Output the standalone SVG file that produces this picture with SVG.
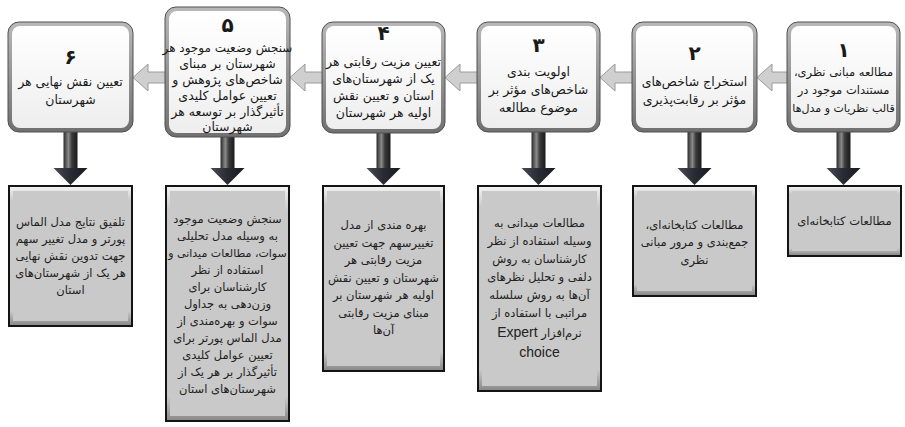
<svg xmlns="http://www.w3.org/2000/svg" width="905" height="427" viewBox="0 0 905 427">
<defs>
<linearGradient id="topFill" x1="0" y1="0" x2="0" y2="1">
<stop offset="0" stop-color="#ffffff"/><stop offset="1" stop-color="#eeeeee"/>
</linearGradient>
<linearGradient id="topFrame" x1="0" y1="0" x2="0" y2="1">
<stop offset="0" stop-color="#b8b8b8"/><stop offset="1" stop-color="#707070"/>
</linearGradient>
<linearGradient id="botBevel" x1="0" y1="0" x2="0" y2="1">
<stop offset="0" stop-color="#f2f2f2"/><stop offset="0.1" stop-color="#c9c9c9"/><stop offset="0.9" stop-color="#c9c9c9"/><stop offset="1" stop-color="#8a8a8a"/>
</linearGradient>
<linearGradient id="shaft" x1="0" y1="0" x2="1" y2="0">
<stop offset="0" stop-color="#2a2a2a"/><stop offset="0.35" stop-color="#8a8a8a"/><stop offset="0.6" stop-color="#3a3a3a"/><stop offset="1" stop-color="#1a1a1a"/>
</linearGradient>
<linearGradient id="head" x1="0" y1="0" x2="1" y2="0">
<stop offset="0" stop-color="#4a4a55"/><stop offset="0.5" stop-color="#2a2a33"/><stop offset="1" stop-color="#1a1a22"/>
</linearGradient>
<g id="down">
<rect x="-7" y="0" width="14" height="37" fill="url(#shaft)"/>
<polygon points="-17,36 17,36 0,53" fill="url(#head)"/>
</g>
<polygon id="left" points="0,0 15,-13.5 15,-5.5 34,-5.5 34,5.5 15,5.5 15,13.5" fill="#cfcfcf" stroke="#9a9a9a" stroke-width="1"/>
</defs>
<style>
.tf{fill:url(#topFrame);stroke:#505050;stroke-width:1}
.ti{fill:url(#topFill)}
.bo{fill:#141414}
.bb{fill:url(#botBevel)}
.bi{fill:#c9c9c9}
text{font-family:"DejaVu Sans","Noto Sans",sans-serif;text-anchor:middle;direction:rtl;fill:#1a1a1a}
.t{font-size:12.5px}
.s{font-size:11.5px}
.n{font-size:20px;font-weight:bold}
.b{font-size:11.5px;fill:#222}
.lat{font-family:"Liberation Sans",Arial,sans-serif;font-size:14px;direction:ltr}
</style>
<g id="connectors">
<use href="#left" x="133" y="77.5"/>
<use href="#left" x="290" y="77.5"/>
<use href="#left" x="445" y="77.5"/>
<use href="#left" x="600" y="77.5"/>
<use href="#left" x="757" y="77.5"/>
<use href="#down" x="70.5" y="132"/>
<use href="#down" x="227.5" y="132"/>
<use href="#down" x="383.5" y="132"/>
<use href="#down" x="538.5" y="132"/>
<use href="#down" x="694.5" y="132"/>
<use href="#down" x="843.5" y="132"/>
</g>
<g id="step6">
<rect class="tf" x="8" y="22" width="125" height="110" rx="11"/>
<rect class="ti" x="12" y="26" width="117" height="102" rx="8"/>
<text class="n" x="70.5" y="64">۶</text>
<text class="t" x="70.5" y="86">تعیین نقش نهایی هر</text>
<text class="t" x="70.5" y="104">شهرستان</text>
</g>
<g id="step5">
<rect class="tf" x="165" y="7" width="125" height="130" rx="11"/>
<rect class="ti" x="169" y="11" width="117" height="122" rx="8"/>
<text class="n" x="227.5" y="32">۵</text>
<text class="t" x="227.5" y="52" style="font-size:12px">سنجش وضعیت موجود هر</text>
<text class="t" x="227.5" y="68">شهرستان بر مبنای</text>
<text class="t" x="227.5" y="84">شاخص&#8204;های پژوهش و</text>
<text class="t" x="227.5" y="100">تعیین عوامل کلیدی</text>
<text class="t" x="227.5" y="116">تأثیرگذار بر توسعه هر</text>
<text class="t" x="227.5" y="131">شهرستان</text>
</g>
<g id="step4">
<rect class="tf" x="322" y="22" width="123" height="111" rx="11"/>
<rect class="ti" x="326" y="26" width="115" height="103" rx="8"/>
<text class="n" x="383.5" y="40">۴</text>
<text class="t" x="383.5" y="66">تعیین مزیت رقابتی هر</text>
<text class="t" x="383.5" y="83">یک از شهرستان&#8204;های</text>
<text class="t" x="383.5" y="100">استان و تعیین نقش</text>
<text class="t" x="383.5" y="117">اولیه هر شهرستان</text>
</g>
<g id="step3">
<rect class="tf" x="477" y="22" width="123" height="110" rx="11"/>
<rect class="ti" x="481" y="26" width="115" height="102" rx="8"/>
<text class="n" x="538.5" y="52">۳</text>
<text class="t" x="538.5" y="76">اولویت بندی</text>
<text class="t" x="538.5" y="94">شاخص&#8204;های مؤثر بر</text>
<text class="t" x="538.5" y="112">موضوع مطالعه</text>
</g>
<g id="step2">
<rect class="tf" x="632" y="22" width="125" height="110" rx="11"/>
<rect class="ti" x="636" y="26" width="117" height="102" rx="8"/>
<text class="n" x="694.5" y="60">۲</text>
<text class="t" x="694.5" y="86">استخراج شاخص&#8204;های</text>
<text class="t" x="694.5" y="104">مؤثر بر رقابت&#8204;پذیری</text>
</g>
<g id="step1">
<rect class="tf" x="787" y="22" width="113" height="110" rx="11"/>
<rect class="ti" x="791" y="26" width="105" height="102" rx="8"/>
<text class="n" x="843.5" y="57">۱</text>
<text class="s" x="843.5" y="76">مطالعه مبانی نظری،</text>
<text class="s" x="843.5" y="94">مستندات موجود در</text>
<text class="s" x="843.5" y="112" style="font-size:11px">قالب نظریات و مدل&#8204;ها</text>
</g>
<g id="method6">
<rect class="bo" x="8" y="185" width="125" height="142"/>
<rect class="bb" x="10" y="187" width="121" height="138"/>
<rect class="bi" x="13" y="191" width="115" height="130"/>
<text class="b" x="70.5" y="226">تلفیق نتایج مدل الماس</text>
<text class="b" x="70.5" y="243">پورتر و مدل تغییر سهم</text>
<text class="b" x="70.5" y="260">جهت تدوین نقش نهایی</text>
<text class="b" x="70.5" y="277">هر یک از شهرستان&#8204;های</text>
<text class="b" x="70.5" y="294">استان</text>
</g>
<g id="method5">
<rect class="bo" x="165" y="185" width="125" height="237"/>
<rect class="bb" x="167" y="187" width="121" height="233"/>
<rect class="bi" x="170" y="191" width="115" height="225"/>
<text class="b" x="227.5" y="223">سنجش وضعیت موجود</text>
<text class="b" x="227.5" y="240">به وسیله مدل تحلیلی</text>
<text class="b" x="227.5" y="257" style="font-size:11px">سوات، مطالعات میدانی و</text>
<text class="b" x="227.5" y="274">استفاده از نظر</text>
<text class="b" x="227.5" y="291">کارشناسان برای</text>
<text class="b" x="227.5" y="308">وزن&#8204;دهی به جداول</text>
<text class="b" x="227.5" y="325">سوات و بهره&#8204;مندی از</text>
<text class="b" x="227.5" y="342">مدل الماس پورتر برای</text>
<text class="b" x="227.5" y="359">تعیین عوامل کلیدی</text>
<text class="b" x="227.5" y="376">تأثیرگذار بر هر یک از</text>
<text class="b" x="227.5" y="393">شهرستان&#8204;های استان</text>
</g>
<g id="method4">
<rect class="bo" x="322" y="185" width="123" height="187"/>
<rect class="bb" x="324" y="187" width="119" height="183"/>
<rect class="bi" x="327" y="191" width="113" height="175"/>
<text class="b" x="383.5" y="229">بهره مندی از مدل</text>
<text class="b" x="383.5" y="246.5">تغییرسهم جهت تعیین</text>
<text class="b" x="383.5" y="264">مزیت رقابتی هر</text>
<text class="b" x="383.5" y="281.5">شهرستان و تعیین نقش</text>
<text class="b" x="383.5" y="299">اولیه هر شهرستان بر</text>
<text class="b" x="383.5" y="316.5">مبنای مزیت رقابتی</text>
<text class="b" x="383.5" y="334">آن&#8204;ها</text>
</g>
<g id="method3">
<rect class="bo" x="477" y="185" width="125" height="207"/>
<rect class="bb" x="479" y="187" width="121" height="203"/>
<rect class="bi" x="482" y="191" width="115" height="195"/>
<text class="b" x="539.5" y="227">مطالعات میدانی به</text>
<text class="b" x="539.5" y="245">وسیله استفاده از نظر</text>
<text class="b" x="539.5" y="263">کارشناسان به روش</text>
<text class="b" x="539.5" y="281">دلفی و تحلیل نظرهای</text>
<text class="b" x="539.5" y="299">آن&#8204;ها به روش سلسله</text>
<text class="b" x="539.5" y="317">مراتبی با استفاده از</text>
<text class="b" x="539.5" y="337">نرم&#8204;افزار <tspan class="lat">Expert</tspan></text>
<text class="b lat" x="539.5" y="357">choice</text>
</g>
<g id="method2">
<rect class="bo" x="632" y="185" width="125" height="112"/>
<rect class="bb" x="634" y="187" width="121" height="108"/>
<rect class="bi" x="637" y="191" width="115" height="100"/>
<text class="b" x="694.5" y="229">مطالعات کتابخانه&#8204;ای،</text>
<text class="b" x="694.5" y="246">جمع&#8204;بندی و مرور مبانی</text>
<text class="b" x="694.5" y="264">نظری</text>
</g>
<g id="method1">
<rect class="bo" x="787" y="185" width="115" height="72"/>
<rect class="bb" x="789" y="187" width="111" height="68"/>
<rect class="bi" x="792" y="191" width="105" height="60"/>
<text class="b" x="844.5" y="225">مطالعات کتابخانه&#8204;ای</text>
</g>
</svg>
